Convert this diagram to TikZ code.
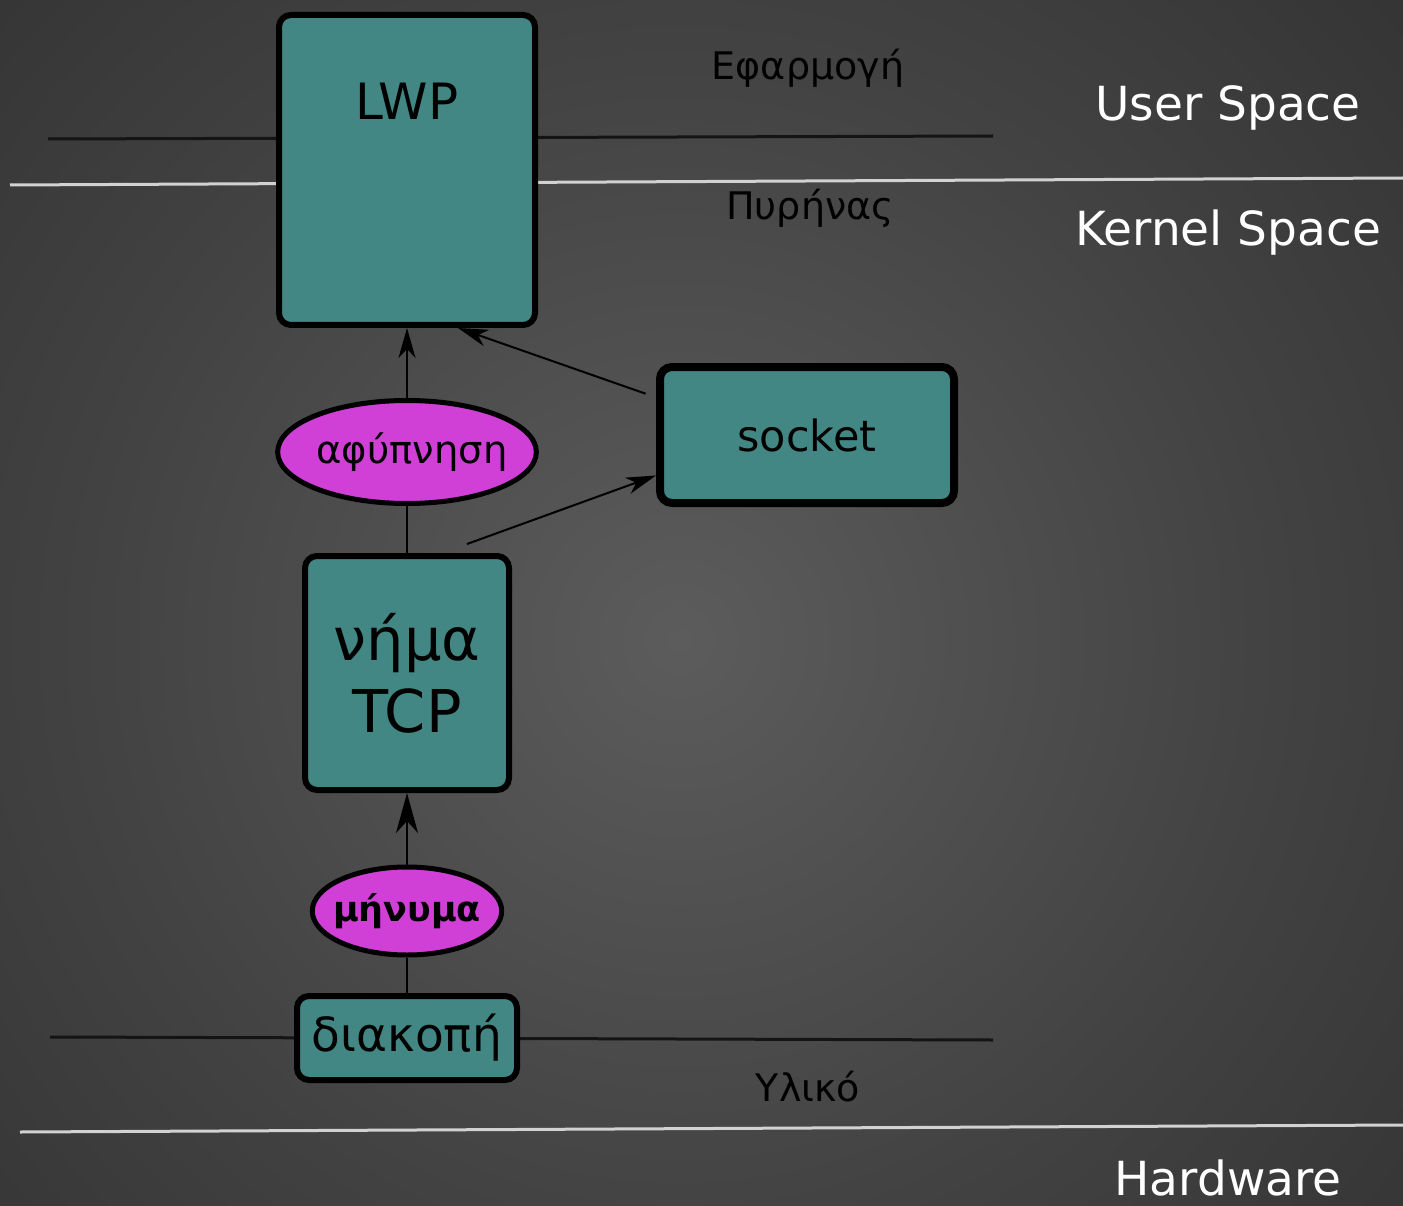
\documentclass[tikz,border=0pt]{standalone}
\usepackage{fontspec}
\setmainfont{DejaVu Sans}
\usetikzlibrary{arrows.meta,shapes.geometric,calc}

\definecolor{bgin}{RGB}{92,92,92}
\definecolor{bgmid}{RGB}{66,66,66}
\definecolor{bgout}{RGB}{44,44,44}
\definecolor{bgedge}{RGB}{36,36,36}
\definecolor{tealbox}{RGB}{67,135,133}
\definecolor{magell}{RGB}{208,64,214}
\definecolor{sepline}{RGB}{210,210,210}
\definecolor{darkline}{RGB}{20,20,20}

\pgfdeclareradialshading{bgshade}{\pgfpoint{0bp}{0bp}}{%
  color(0bp)=(bgin); color(15bp)=(bgmid); color(30bp)=(bgout); color(50bp)=(bgedge)}

\tikzset{
  box/.style={draw=black, fill=tealbox, rounded corners=12pt, line width=6pt, inner sep=0pt},
  oval/.style={ellipse, draw=black, fill=magell, line width=5pt, inner ysep=0pt},
  lbl/.style={text=black, inner sep=0pt},
  side/.style={text=white, inner sep=0pt, font=\fontsize{47}{50}\selectfont},
  layer/.style={text=black, inner sep=0pt, font=\fontsize{38}{42}\selectfont},
  link/.style={draw=black, line width=2pt},
  arr/.style={link, -{Stealth[length=30pt, width=17pt, inset=9pt]}},
  bigarr/.style={link, -{Stealth[length=40pt, width=22pt, inset=12pt]}},
}

\begin{document}
\begin{tikzpicture}[x=1pt, y=-1pt]
\useasboundingbox (0,0) rectangle (1403,1206);

% background
\fill[bgedge] (0,0) rectangle (1403,1206);
\begin{scope}
  \clip (0,0) rectangle (1403,1206);
  \shade[shading=bgshade] (680,640) circle (1000);
\end{scope}

% layer separators
\draw[darkline, line width=3pt] (48,139) -- (993,136);
\draw[sepline, line width=3pt] (10,185) -- (1403,178);
\draw[darkline, line width=3pt] (50,1037) -- (993,1040);
\draw[sepline, line width=3pt] (20,1132) -- (1403,1125);

% layer names
\node[layer] (app) at (808,68) {Εφαρμογή};
\node[layer] (kern) at (810,208) {Πυρήνας};
\node[layer] (hw) at (808,1087) {Υλικό};
\node[side] (us) at (1228,108) {User Space};
\node[side] (ks) at (1228,233) {Kernel Space};
\node[side] (hws) at (1228,1178) {Hardware};

% blocks
\node[box, minimum width=256pt, minimum height=310pt] (LWP) at (407,170) {};
\node[lbl, font=\fontsize{50}{54}\selectfont] (lwptxt) at (407,101) {LWP};
\node[oval, inner xsep=-9pt, minimum width=257pt, minimum height=103pt,
      font=\fontsize{38.5}{42}\selectfont] (afy) at (407,452) {\hspace*{10pt}αφύπνηση};
\node[box, line width=8pt, minimum width=294pt, minimum height=136pt,
      font=\fontsize{43}{46}\selectfont] (socket) at (807,435) {socket};
\node[box, minimum width=204pt, minimum height=234pt, align=center,
      font=\fontsize{59}{72}\selectfont] (tcp) at (407,673) {νήμα\\TCP};
\node[oval, inner xsep=-7pt, minimum width=185pt, minimum height=88pt,
      font=\bfseries\fontsize{35}{38}\selectfont] (mhn) at (407,911) {μήνυμα};
\node[box, minimum width=220pt, minimum height=84pt,
      font=\fontsize{47}{50}\selectfont] (diak) at (407,1038) {διακοπή};

% connectors
\draw[arr] (afy.north) -- (LWP.south);
\draw[link] (afy.south) -- (tcp.north);
\draw[bigarr] (mhn.north) -- (tcp.south);
\draw[link] (mhn.south) -- (diak.north);
\draw[arr, shorten <=11pt] (socket.166) -- ([xshift=51pt]LWP.south);
\coordinate (tcpout) at ($(tcp.north)+(60,-9)$);
\draw[arr] (tcpout) -- (socket.195);
\end{tikzpicture}
\end{document}
